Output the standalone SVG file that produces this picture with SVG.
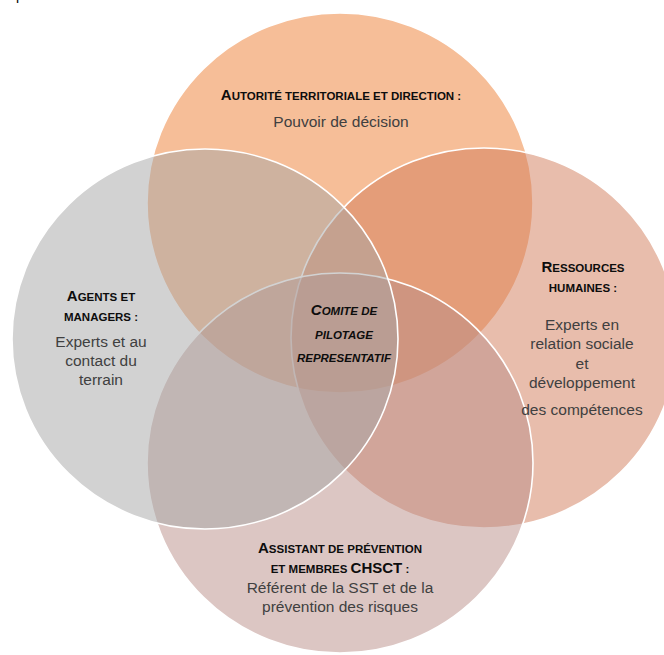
<svg xmlns="http://www.w3.org/2000/svg" width="664" height="655" viewBox="0 0 664 655">
  <style>
    .set { fill-opacity: 0.5; stroke: #ffffff; stroke-width: 1.6; }
    .hd { font-family: "Liberation Sans", Arial, sans-serif; font-weight: bold; font-size: 11.5px; fill: #0d0d0d; text-anchor: middle; }
    .hd .cap { font-size: 15px; }
    .ctr { font-style: italic; }
    .body { font-family: "Liberation Sans", Arial, sans-serif; font-size: 15.5px; fill: #404040; text-anchor: middle; }
  </style>

  <rect width="664" height="655" fill="#ffffff"/>

  <!-- clipped letter at the top-left corner -->
  <text x="16" y="-0.5" font-family="Liberation Sans, Arial, sans-serif" font-size="14" fill="#000000">p</text>

  <!-- four overlapping sets -->
  <g id="set-autorite">
    <ellipse class="set" cx="340" cy="203" rx="193" ry="190" fill="#ED7D31"/>
  </g>
  <g id="set-rh">
    <ellipse class="set" cx="484" cy="338" rx="193" ry="190" fill="#D17B59"/>
  </g>
  <g id="set-prevention">
    <ellipse class="set" cx="340" cy="463" rx="193" ry="190" fill="#B98D87"/>
  </g>
  <g id="set-agents">
    <ellipse class="set" cx="205" cy="339" rx="193" ry="190" fill="#A5A5A5"/>
  </g>

  <g id="connectors"/>

  <!-- labels -->
  <g id="label-autorite">
    <text class="hd" x="341" y="100"><tspan class="cap">A</tspan>UTORITÉ TERRITORIALE ET DIRECTION :</text>
    <text class="body" x="341" y="127">Pouvoir de décision</text>
  </g>

  <g id="label-agents">
    <text class="hd" x="101" y="301"><tspan class="cap">A</tspan>GENTS ET</text>
    <text class="hd" x="101" y="321">MANAGERS :</text>
    <text class="body" x="101" y="347">Experts et au</text>
    <text class="body" x="101" y="366">contact du</text>
    <text class="body" x="101" y="385">terrain</text>
  </g>

  <g id="label-rh">
    <text class="hd" x="583" y="272"><tspan class="cap">R</tspan>ESSOURCES</text>
    <text class="hd" x="583" y="292">HUMAINES :</text>
    <text class="body" x="582" y="330">Experts en</text>
    <text class="body" x="582" y="349">relation sociale</text>
    <text class="body" x="582" y="369">et</text>
    <text class="body" x="582" y="388">développement</text>
    <text class="body" x="582" y="415">des compétences</text>
  </g>

  <g id="label-prevention">
    <text class="hd" x="340" y="553"><tspan class="cap">A</tspan>SSISTANT DE PRÉVENTION</text>
    <text class="hd" x="340" y="573">ET MEMBRES <tspan class="cap">CHSCT</tspan> :</text>
    <text class="body" x="340" y="593">Référent de la SST et de la</text>
    <text class="body" x="340" y="612">prévention des risques</text>
  </g>

  <g id="label-comite">
    <text class="hd ctr" x="344" y="315"><tspan class="cap">C</tspan>OMITE DE</text>
    <text class="hd ctr" x="344" y="339">PILOTAGE</text>
    <text class="hd ctr" x="344" y="362">REPRESENTATIF</text>
  </g>
</svg>
